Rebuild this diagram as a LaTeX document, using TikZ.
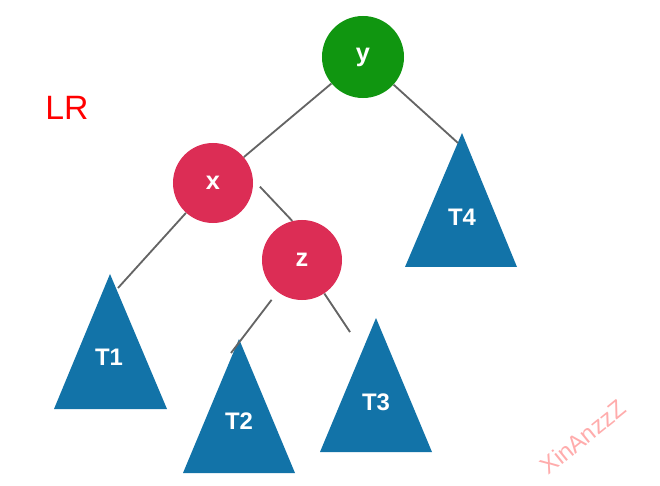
\documentclass[tikz,border=0pt]{standalone}
\usepackage{fontspec}
\setmainfont{Liberation Sans}

\definecolor{nodered}{RGB}{220,45,85}
\definecolor{nodegreen}{RGB}{16,150,16}
\definecolor{treeblue}{RGB}{18,115,168}
\definecolor{edgegray}{RGB}{100,100,100}
\definecolor{markpink}{RGB}{255,172,172}

\tikzset{
  rbnode/.style={circle, inner sep=0pt, minimum size=2cm, text=white, font=\bfseries\fontsize{18}{18}\selectfont},
  subtree/.style={text=white, font=\bfseries\fontsize{17}{17}\selectfont},
  edge/.style={draw=edgegray, line width=1.3pt}
}

\begin{document}
\begin{tikzpicture}[x=0.025cm, y=-0.025cm]
\useasboundingbox (0,0) rectangle (660,486);

% subtrees
\fill [treeblue] (405,267) -- (462,133) -- (517,267) -- cycle;
\fill [treeblue] (54,409) -- (110,274) -- (167,409) -- cycle;
\fill [treeblue] (183,473) -- (239,339) -- (295,473) -- cycle;
\fill [treeblue] (320,452) -- (376,318) -- (432,452) -- cycle;
\node [subtree] (t4l) at (462,217) {T4};
\node [subtree] (t1l) at (109,357) {T1};
\node [subtree] (t2l) at (239,421) {T2};
\node [subtree] (t3l) at (376,402) {T3};
\coordinate (t4) at (458,143);
\coordinate (t1) at (118,288);
\coordinate (t2) at (231,353);
\coordinate (t3) at (350,332);

% nodes
\node [rbnode, fill=nodegreen, minimum size=2.05cm] (y) at (363,57) {y};
\node [rbnode, fill=nodered] (x) at (213,183) {x};
\node [rbnode, fill=nodered] (z) at (302,260) {z};

\node [anchor=center, text=red, font=\fontsize{24}{24}\selectfont] (lr) at (67,108) {LR};

% edges
\draw [edge] (y) -- (x);
\draw [edge] (y) -- (t4);
\draw [edge] (x) -- (t1);
\draw [edge, shorten <=7pt] (x.5) -- (z.104);
\draw [edge, shorten <=7pt] (z) -- (t2);
\draw [edge] (z) -- (t3);

\node [rotate=39, text=markpink, font=\fontsize{17}{17}\selectfont] (mark) at (583,437) {XinAnzzZ};
\end{tikzpicture}
\end{document}
